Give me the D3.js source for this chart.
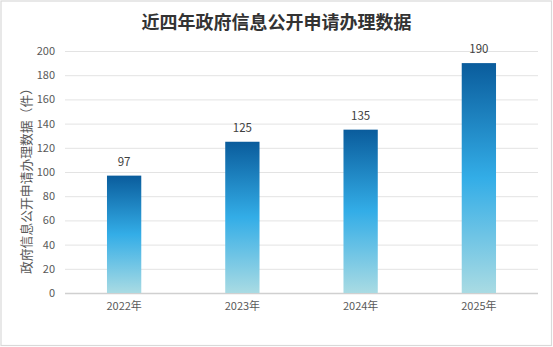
<!DOCTYPE html>
<html>
<head>
<meta charset="utf-8">
<script src="https://cdn.jsdelivr.net/npm/d3@7/dist/d3.min.js"></script>
<style>
  html, body { margin: 0; padding: 0; background: #fff; }
  svg { display: block; }
</style>
</head>
<body>
<svg id="chart" width="553" height="347"></svg>
<script>
// Yearly counts of government information disclosure requests handled
const years = ["2022年", "2023年", "2024年", "2025年"];
const counts = [97, 125, 135, 190];
const yTicks = [0, 20, 40, 60, 80, 100, 120, 140, 160, 180, 200];

const W = 553, H = 347;
const margin = { left: 65, right: 15, top: 51, bottom: 54 };
const svg = d3.select("#chart");
const font = "'Noto Sans CJK SC', 'Noto Sans', sans-serif";

// outer frame
svg.append("rect")
  .attr("x", 1).attr("y", 1).attr("width", W - 2.5).attr("height", H - 2.5)
  .attr("fill", "#fff").attr("stroke", "#d9d9d9").attr("stroke-width", 1.2);

// bar gradient: deep blue top, bright sky blue middle, pale cyan bottom
const defs = svg.append("defs");
const grad = defs.append("linearGradient")
  .attr("id", "barFill").attr("x1", 0).attr("y1", 0).attr("x2", 0).attr("y2", 1);
grad.append("stop").attr("offset", "0%").attr("stop-color", "#0a5c9c");
grad.append("stop").attr("offset", "50%").attr("stop-color", "#33ade7");
grad.append("stop").attr("offset", "100%").attr("stop-color", "#a9dbe3");

const x = d3.scaleBand()
  .domain(years)
  .range([margin.left, W - margin.right])
  .padding(0);
const y = d3.scaleLinear()
  .domain([0, 200])
  .range([H - margin.bottom, margin.top]);

// title
svg.append("text")
  .attr("x", W / 2).attr("y", 29)
  .attr("text-anchor", "middle")
  .attr("font-family", "'Noto Sans CJK SC', serif")
  .attr("font-weight", "bold")
  .attr("font-size", 18)
  .attr("fill", "#333")
  .text("近四年政府信息公开申请办理数据");

// gridlines and y tick labels
const yAxis = d3.axisLeft(y).tickValues(yTicks)
  .tickSize(-(W - margin.left - margin.right)).tickPadding(10);
const gy = svg.append("g")
  .attr("transform", `translate(${margin.left},0)`)
  .call(yAxis);
gy.select(".domain").remove();
gy.selectAll(".tick line")
  .attr("stroke", d => d === 0 ? "#d0d0d0" : "#e3e3e3")
  .attr("stroke-width", d => d === 0 ? 1.3 : 1);
gy.selectAll(".tick text")
  .attr("font-family", font).attr("font-size", 11).attr("fill", "#595959");

// x axis labels
const xAxis = d3.axisBottom(x).tickSize(0).tickPadding(9);
const gx = svg.append("g")
  .attr("transform", `translate(0,${H - margin.bottom})`)
  .call(xAxis);
gx.select(".domain").remove();
gx.selectAll(".tick text")
  .attr("font-family", font).attr("font-size", 11).attr("fill", "#595959");

// bars
const barW = x.bandwidth() * 0.29;
svg.append("g").selectAll("rect")
  .data(counts)
  .join("rect")
  .attr("x", (d, i) => x(years[i]) + (x.bandwidth() - barW) / 2)
  .attr("y", d => y(d))
  .attr("width", barW)
  .attr("height", d => y(0) - y(d))
  .attr("fill", "url(#barFill)");

// value labels
svg.append("g").selectAll("text")
  .data(counts)
  .join("text")
  .attr("x", (d, i) => x(years[i]) + x.bandwidth() / 2)
  .attr("y", d => y(d) - 10)
  .attr("text-anchor", "middle")
  .attr("font-family", font).attr("font-size", 11.5).attr("fill", "#404040")
  .text(d => d);

// y axis title
svg.append("text")
  .attr("transform", `translate(31,${(y(0) + y(200)) / 2 + 6}) rotate(-90)`)
  .attr("text-anchor", "middle")
  .attr("font-family", font).attr("font-size", 12.8).attr("fill", "#595959")
  .text("政府信息公开申请办理数据（件）");
</script>
</body>
</html>
